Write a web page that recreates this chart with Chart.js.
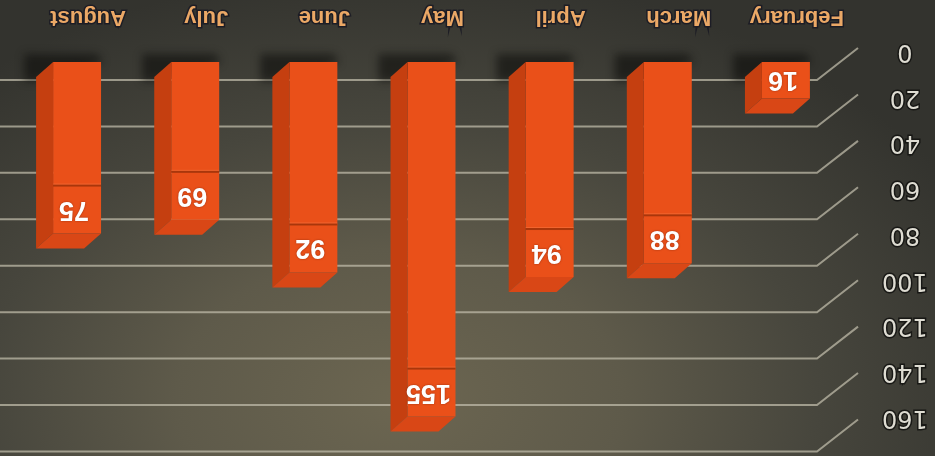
<!DOCTYPE html>
<html>
<head>
<meta charset="utf-8">
<script src="https://cdn.jsdelivr.net/npm/chart.js@4.4.1/dist/chart.umd.min.js"></script>
<style>
   html, body { margin: 0; padding: 0; overflow: hidden; background: #34342f; }
   /* the photo is upside down, so the whole chart is turned round */
   #wrap {
      position: relative;
      width: 935px;
      height: 456px;
      transform: rotate(180deg);
      background: radial-gradient(ellipse 640px 430px at 535px 56px,
                  #6c6651 0%, #5e5a4a 35%, #47463d 65%, #33332e 100%);
   }
</style>
</head>
<body>
<div id="wrap"><canvas id="chart" width="935" height="456"></canvas></div>
<script>

var months = ['February', 'March', 'April', 'May', 'June', 'July', 'August'];
var visits = [16, 88, 94, 155, 92, 69, 75];
var yMin = 0;
var yMax = 160;
var yStep = 20;

var FRONT = '#ea5019';
var SIDE = '#c53f10';
var TOP = '#d94716';
var DEPTH_X = 17;   // how far the 3D faces go right
var DEPTH_Y = 15;   // and up

// back wall lines, with the slanted floor part on the left
var wallPlugin = {
   id: 'wall',
   beforeDatasetsDraw: function(chart) {
      var ctx = chart.ctx;
      var ys = chart.scales.y;
      var area = chart.chartArea;
      var base = ys.getPixelForValue(yMin);

      ctx.save();
      ctx.strokeStyle = 'rgba(190, 186, 168, 0.75)';
      ctx.lineWidth = 2;
      for (var v = yMin; v <= yMax; v += yStep) {
         var gy = base - 18 - (base - ys.getPixelForValue(v)) * 1.015;
         ctx.beginPath();
         ctx.moveTo(chart.width, gy);
         ctx.lineTo(area.left + 28, gy);
         ctx.lineTo(area.left - 13, gy + 32);
         ctx.stroke();
      }

      // soft shadow at the foot of each bar
      var meta = chart.getDatasetMeta(0);
      ctx.filter = 'blur(4px)';
      ctx.fillStyle = 'rgba(10, 10, 8, 0.55)';
      meta.data.forEach(function(bar) {
         var left = bar.x - bar.width / 2;
         var right = bar.x + bar.width / 2;
         ctx.beginPath();
         ctx.moveTo(left - 2, bar.base);
         ctx.lineTo(left + 4, bar.base + 8);
         ctx.lineTo(right + DEPTH_X + 12, bar.base + 8);
         ctx.lineTo(right + DEPTH_X + 12, bar.base - DEPTH_Y - 4);
         ctx.lineTo(right + DEPTH_X, bar.base - DEPTH_Y - 4);
         ctx.closePath();
         ctx.fill();
      });
      ctx.restore();
   },

   afterDatasetsDraw: function(chart) {
      var ctx = chart.ctx;
      var meta = chart.getDatasetMeta(0);

      ctx.save();
      meta.data.forEach(function(bar, i) {
         var left = bar.x - bar.width / 2;
         var right = bar.x + bar.width / 2;
         var top = bar.y;
         var bottom = bar.base;

         // right side face
         ctx.fillStyle = SIDE;
         ctx.beginPath();
         ctx.moveTo(right, top);
         ctx.lineTo(right + DEPTH_X, top - DEPTH_Y);
         ctx.lineTo(right + DEPTH_X, bottom - DEPTH_Y);
         ctx.lineTo(right, bottom);
         ctx.closePath();
         ctx.fill();

         // top face
         ctx.fillStyle = TOP;
         ctx.beginPath();
         ctx.moveTo(left, top);
         ctx.lineTo(left + DEPTH_X, top - DEPTH_Y);
         ctx.lineTo(right + DEPTH_X, top - DEPTH_Y);
         ctx.lineTo(right, top);
         ctx.closePath();
         ctx.fill();

         // value box at the end of the bar
         var h = bottom - top;
         var boxH = Math.min(47, h);
         if (boxH < h) {
            ctx.fillStyle = '#a9360b';
            ctx.fillRect(left, top + boxH, bar.width, 2);
            ctx.fillStyle = 'rgba(255, 140, 90, 0.35)';
            ctx.fillRect(left, top + boxH + 2, bar.width, 1);
         }

         ctx.fillStyle = '#ffffff';
         ctx.font = 'bold 27px "Liberation Sans", Arial, sans-serif';
         ctx.textAlign = 'center';
         ctx.textBaseline = 'middle';
         ctx.shadowColor = 'rgba(60, 10, 0, 0.5)';
         ctx.shadowBlur = 2;
         ctx.fillText(String(visits[i]), bar.x + 3, top + boxH / 2 + 1);
         ctx.shadowBlur = 0;
      });
      ctx.restore();
   }
};

var ctx = document.getElementById('chart').getContext('2d');

var chart = new Chart(ctx, {
   type: 'bar',
   data: {
      labels: months,
      datasets: [{
         data: visits,
         backgroundColor: FRONT,
         borderWidth: 0,
         categoryPercentage: 1,
         barPercentage: 0.406
      }]
   },
   options: {
      responsive: false,
      animation: false,
      devicePixelRatio: 1,
      layout: {
         padding: { top: 28, right: 18, left: 0, bottom: 0 }
      },
      plugins: {
         legend: { display: false },
         tooltip: { enabled: false }
      },
      scales: {
         x: {
            grid: { display: false, drawTicks: false },
            border: { display: false },
            ticks: {
               color: '#eba866',
               textStrokeColor: 'rgba(25, 25, 35, 0.85)',
               textStrokeWidth: 3,
               font: { family: '"Liberation Sans", Arial, sans-serif', size: 22, weight: 'bold' },
               padding: 32,
               labelOffset: -11,
               maxRotation: 0
            },
            afterFit: function(scale) {
               scale.height = 62;
               scale.paddingLeft = 0;
               scale.paddingRight = 0;
            }
         },
         y: {
            min: yMin,
            max: yMax,
            grid: { display: false, drawTicks: false },
            border: { display: false },
            ticks: {
               stepSize: yStep,
               color: '#dedcd2',
               textStrokeColor: 'rgba(20, 20, 18, 0.9)',
               textStrokeWidth: 3,
               font: { family: '"DejaVu Sans", sans-serif', size: 24 },
               crossAlign: 'center',
               padding: 37,
               labelOffset: 11
            },
            afterFit: function(scale) {
               scale.width = 90;
               scale.paddingTop = 0;
               scale.paddingBottom = 0;
            }
         }
      }
   },
   plugins: [wallPlugin]
});

</script>
</body>
</html>
